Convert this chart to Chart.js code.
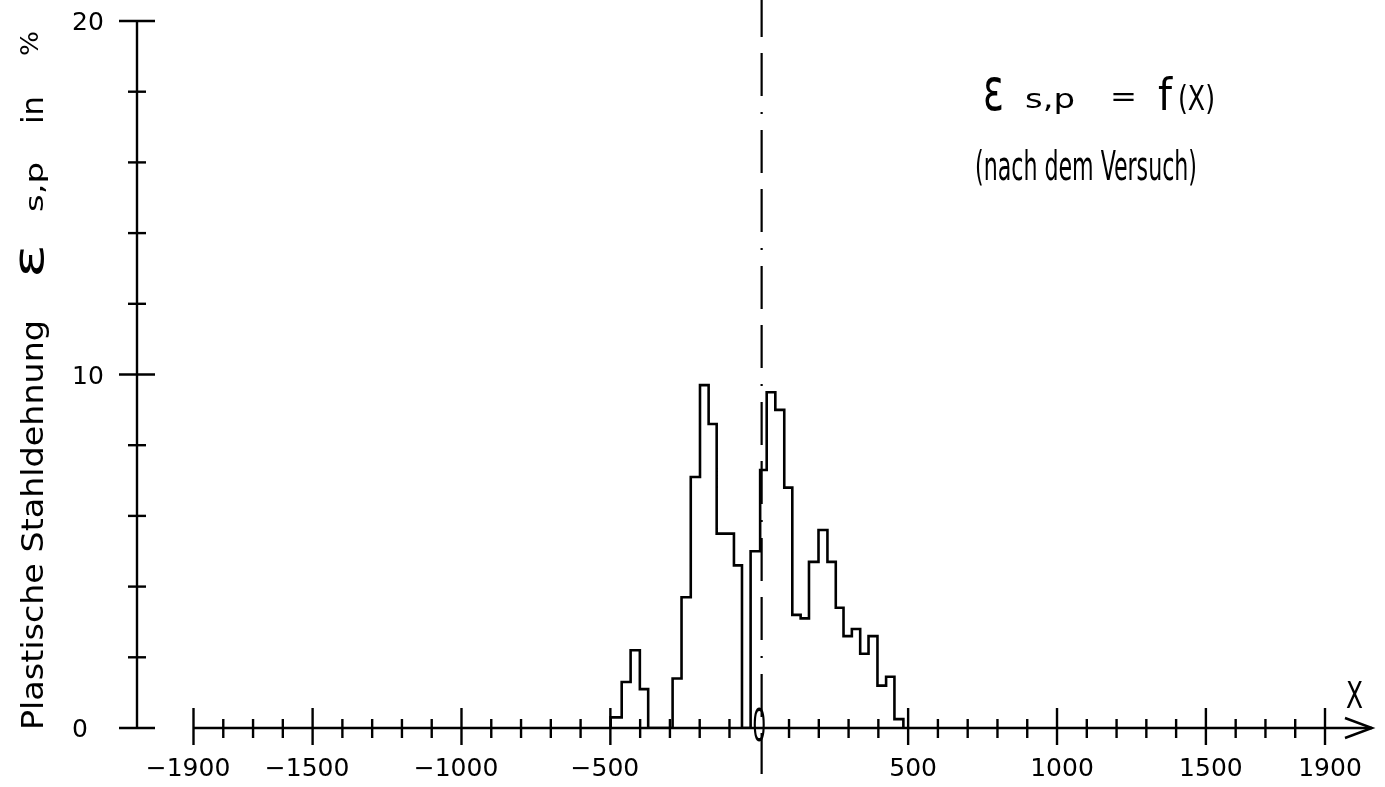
<!DOCTYPE html>
<html lang="de">
<head>
  <meta charset="UTF-8">
  <title>Plastische Stahldehnung nach dem Versuch</title>
  <style>
    body, html {
      margin: 0;
      padding: 0;
      background: #fff;
    }

    .chart-box {
      width: 1385px;
      height: 787px;
    }
  </style>
</head>
<body>
  <div class="chart-box">
    <canvas id="strainChart" width="1385" height="787"></canvas>
  </div>

  <script src="https://cdn.jsdelivr.net/npm/chart.js"></script>
  <script>
    // linke Kante jedes Messabschnitts (X) und plastische Dehnung in %
    const binStart = [-499, -462, -432, -401, -373, -291, -261, -230, -199, -170, -143, -85, -58, -29, 3,
                      25, 54, 84, 111, 139, 167, 199, 229, 257, 283, 311, 339, 367, 397, 426, 454];
    const binEnd = 484;
    const strain = [0.3, 1.3, 2.2, 1.1, 0, 1.4, 3.7, 7.1, 9.7, 8.6, 5.5, 4.6, 0, 5.0, 7.3,
                    9.5, 9.0, 6.8, 3.2, 3.1, 4.7, 5.6, 4.7, 3.4, 2.6, 2.8, 2.1, 2.6, 1.2, 1.45, 0.25];

    // Achsen
    const xTickLabels = [-1900, -1500, -1000, -500, 500, 1000, 1500, 1900];
    const yTickLabels = [0, 10, 20];
    const xMinorStep = 100;
    const yMinorStep = 2;
    const centerLineX = 8;   // Symmetrieachse (strichpunktiert)

    const NARROW = '"DejaVu Sans Condensed", "DejaVu Sans", sans-serif';
    const ROUND = '"DejaVu Sans", sans-serif';

    // Treppenkurve: Start auf der Nulllinie, Ende wieder auf Null
    const points = [{ x: binStart[0], y: 0 }]
      .concat(binStart.map((x, i) => ({ x: x, y: strain[i] })))
      .concat([{ x: binEnd, y: 0 }]);

    // Text auf eine feste Breite strecken/stauchen (Plotter-Schrift)
    function fitText(ctx, str, x, y, w, font) {
      ctx.font = font;
      const nat = ctx.measureText(str).width;
      ctx.save();
      ctx.translate(x, y);
      ctx.scale(w / nat, 1);
      ctx.textAlign = 'left';
      ctx.textBaseline = 'alphabetic';
      ctx.fillText(str, 0, 0);
      ctx.restore();
    }

    const plotterAxes = {
      id: 'plotterAxes',
      afterDatasetsDraw(chart) {
        const ctx = chart.ctx;
        const xs = chart.scales.x;
        const ys = chart.scales.y;
        const y0 = ys.getPixelForValue(0);
        const yAxisX = 137;

        ctx.save();
        ctx.strokeStyle = '#000';
        ctx.fillStyle = '#000';
        ctx.lineWidth = 2.4;
        ctx.lineCap = 'butt';

        // y-Achse
        ctx.beginPath();
        ctx.moveTo(yAxisX, ys.getPixelForValue(20));
        ctx.lineTo(yAxisX, y0);
        ctx.stroke();
        for (let v = 0; v <= 20; v += yMinorStep) {
          const py = ys.getPixelForValue(v);
          const len = yTickLabels.includes(v) ? 18 : 9;
          ctx.beginPath();
          ctx.moveTo(yAxisX - len, py);
          ctx.lineTo(yAxisX + len, py);
          ctx.stroke();
        }
        ctx.font = '25px ' + ROUND;
        ctx.textAlign = 'left';
        ctx.textBaseline = 'alphabetic';
        yTickLabels.forEach(v => {
          ctx.fillText(String(v), 72, ys.getPixelForValue(v) + 9);
        });

        // x-Achse mit Pfeil
        const xLeft = xs.getPixelForValue(-1900);
        const xRight = xs.getPixelForValue(1900);
        const tip = xRight + 47;
        ctx.beginPath();
        ctx.moveTo(xLeft, y0);
        ctx.lineTo(tip, y0);
        ctx.stroke();
        ctx.beginPath();
        ctx.moveTo(tip - 27, y0 - 10);
        ctx.lineTo(tip, y0);
        ctx.lineTo(tip - 27, y0 + 10);
        ctx.stroke();

        for (let v = -1900; v <= 1900; v += xMinorStep) {
          if (v === 0) continue;
          const px = xs.getPixelForValue(v);
          const major = xTickLabels.includes(v);
          ctx.beginPath();
          ctx.moveTo(px, y0 - (major ? 20 : 9));
          ctx.lineTo(px, y0 + (major ? 17 : 10));
          ctx.stroke();
        }

        ctx.font = '25px ' + ROUND;
        ctx.textAlign = 'right';
        xTickLabels.forEach(v => {
          const px = xs.getPixelForValue(v);
          const digits = String(Math.abs(v));
          const dw = ctx.measureText(digits).width;
          ctx.fillText((v < 0 ? '\u2212' : '') + digits, px + 5 + dw / 2, 776);
        });

        // Null im Oval
        ctx.font = '44px ' + NARROW;
        const zw = ctx.measureText('0').width;
        ctx.save();
        ctx.translate(xs.getPixelForValue(0), y0 + 13);
        ctx.scale(14 / zw, 1);
        ctx.textAlign = 'center';
        ctx.fillText('0', 0, 0);
        ctx.restore();

        fitText(ctx, 'X', tip - 26, 708, 17, '38px ' + NARROW);

        // strichpunktierte Mittellinie
        const cx = xs.getPixelForValue(centerLineX);
        ctx.save();
        ctx.lineWidth = 2.2;
        ctx.setLineDash([43, 16, 43, 16, 2, 16]);
        ctx.lineDashOffset = 6;
        ctx.beginPath();
        ctx.moveTo(cx, 0);
        ctx.lineTo(cx, 774);
        ctx.stroke();
        ctx.restore();

        // y-Achsentitel (senkrecht)
        ctx.save();
        ctx.translate(43, 730);
        ctx.rotate(-Math.PI / 2);
        fitText(ctx, 'Plastische Stahldehnung', 0, 0, 410, '30px ' + NARROW);
        fitText(ctx, '\u03b5', 452, 0, 34, '42px ' + ROUND);
        fitText(ctx, 's,p', 518, 0, 50, '24px ' + ROUND);
        fitText(ctx, 'in', 606, 0, 28, '30px ' + NARROW);
        fitText(ctx, '%', 674, -5, 25, '24px ' + ROUND);
        ctx.restore();

        // Beschriftung oben rechts
        fitText(ctx, '\u03b5', 983, 110, 21, '58px ' + ROUND);
        fitText(ctx, 's,p', 1025, 108, 50, '26px ' + ROUND);
        fitText(ctx, '=', 1110, 106, 27, '28px ' + ROUND);
        fitText(ctx, 'f', 1158, 110, 14, '44px ' + NARROW);
        fitText(ctx, '(X)', 1178, 110, 37, '34px ' + NARROW);
        fitText(ctx, '(nach dem Versuch)', 975, 180, 222, '40px ' + NARROW);

        ctx.restore();
      }
    };

    const ctx = document.getElementById('strainChart').getContext('2d');
    const strainChart = new Chart(ctx, {
      type: 'line',
      data: {
        datasets: [{
          label: 'Plastische Stahldehnung',
          data: points,
          stepped: true,
          borderColor: '#000',
          borderWidth: 2.6,
          pointRadius: 0,
          fill: false
        }]
      },
      options: {
        responsive: false,
        animation: false,
        layout: {
          padding: { left: 193.5, right: 60, top: 21, bottom: 59 }
        },
        scales: {
          x: { type: 'linear', min: -1900, max: 1900, display: false },
          y: { min: 0, max: 20, display: false }
        },
        plugins: {
          legend: { display: false },
          tooltip: { enabled: false }
        }
      },
      plugins: [plotterAxes]
    });
  </script>
</body>
</html>
